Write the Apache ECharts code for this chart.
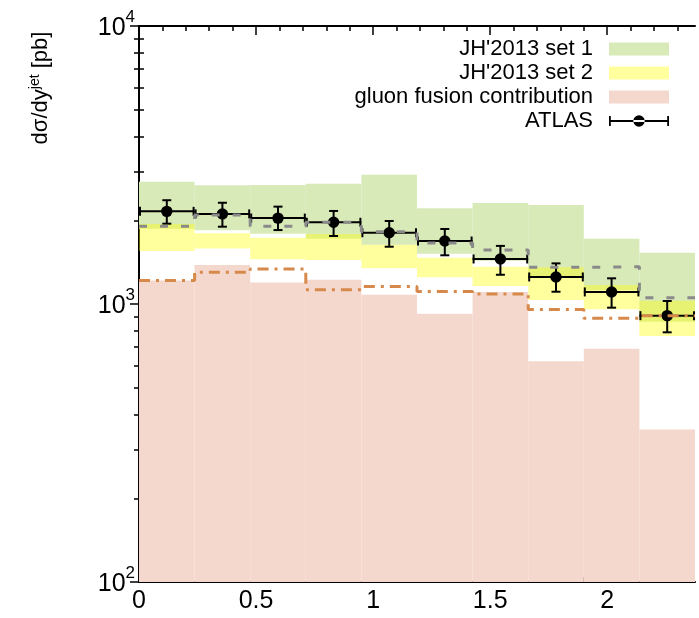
<!DOCTYPE html>
<html>
<head>
<meta charset="utf-8">
<script src="https://cdn.jsdelivr.net/npm/echarts@6/dist/echarts.min.js"></script>
<style>
  html, body { margin: 0; padding: 0; background: #fff; }
  #chart { width: 699px; height: 618px; }
</style>
</head>
<body>
<div id="chart"></div>
<script>
// Jet rapidity bins (10 equal-width bins)
const binEdges = [0, 0.2375, 0.475, 0.7125, 0.95, 1.1875, 1.425, 1.6625, 1.9, 2.1375, 2.375];

// JH'2013 set 1 uncertainty band [pb]
const set1Low  = [1866, 1842, 1790, 1718, 1634, 1515, 1431, 1250, 1123, 863];
const set1High = [2750, 2673, 2680, 2710, 2918, 2210, 2307, 2270, 1715, 1530];

// JH'2013 set 2 uncertainty band [pb]
const set2Low  = [1552, 1582, 1448, 1439, 1344, 1248, 1160, 1034, 957, 767];
const set2High = [1940, 1796, 1732, 1786, 1634, 1468, 1361, 1355, 1170, 1028];

// gluon fusion contribution [pb]
const gluonFusion = [1215, 1381, 1195, 1222, 1080, 923, 1105, 622, 690, 354];

// central-value curves [pb]
const greyDashed    = [1903, 2090, 1903, 1968, 1820, 1656, 1563, 1355, 1361, 1054];
const orangeDashDot = [1215, 1300, 1336, 1126, 1155, 1108, 1087, 955, 889, 908];

// ATLAS measurement [pb]
const atlasValue = [2154, 2109, 2037, 1968, 1805, 1685, 1452, 1251, 1105, 908];
const atlasLow   = [1945, 1897, 1845, 1756, 1607, 1497, 1274, 1107, 970, 791];
const atlasHigh  = [2362, 2313, 2240, 2161, 1989, 1861, 1618, 1400, 1237, 1025];

// axis ranges and ticks
const xRange = [0, 2.375];
const yRange = [100, 10000];
const xMajorTicks = [0, 0.5, 1, 1.5, 2];
const xMinorTicks = [0.1, 0.2, 0.3, 0.4, 0.6, 0.7, 0.8, 0.9, 1.1, 1.2, 1.3, 1.4,
                     1.6, 1.7, 1.8, 1.9, 2.1, 2.2, 2.3];
const yMajorTicks = [100, 1000, 10000];
const yMinorTicks = [200, 300, 400, 500, 600, 700, 800, 900,
                     2000, 3000, 4000, 5000, 6000, 7000, 8000, 9000];

const FONT = 'Liberation Sans, Arial, Helvetica, sans-serif';

const chart = echarts.init(document.getElementById('chart'), null, { renderer: 'canvas' });

// one rectangle per bin: [x0, x1, low, high]
function bandData(low, high) {
  return low.map((lo, i) => [binEdges[i], binEdges[i + 1], lo, high[i]]);
}
function rectItem(params, api) {
  const p0 = api.coord([api.value(0), api.value(3)]);
  const p1 = api.coord([api.value(1), api.value(2)]);
  return {
    type: 'rect',
    shape: { x: p0[0], y: p0[1], width: p1[0] - p0[0], height: p1[1] - p0[1] },
    style: { fill: api.visual('color') }
  };
}
// histogram step points: left edge of each bin, plus closing right edge
function stepData(vals) {
  const pts = vals.map((v, i) => [binEdges[i], v]);
  pts.push([binEdges[binEdges.length - 1], vals[vals.length - 1]]);
  return pts;
}

// ATLAS points with horizontal bin-width bars and vertical error bars
function atlasItem(params, api) {
  const x0 = api.value(0), x1 = api.value(1), v = api.value(2), lo = api.value(3), hi = api.value(4);
  const xc = (x0 + x1) / 2;
  const pl = api.coord([x0, v]);
  const pr = api.coord([x1, v]);
  const pc = api.coord([xc, v]);
  const pLo = api.coord([xc, lo]);
  const pHi = api.coord([xc, hi]);
  const cap = 4.5;
  const ls = { stroke: '#000', lineWidth: 2 };
  return {
    type: 'group',
    children: [
      { type: 'line', shape: { x1: pl[0], y1: pl[1], x2: pr[0], y2: pr[1] }, style: ls },
      { type: 'line', shape: { x1: pl[0] + 1, y1: pl[1] - cap, x2: pl[0] + 1, y2: pl[1] + cap }, style: ls },
      { type: 'line', shape: { x1: pr[0] - 1, y1: pr[1] - cap, x2: pr[0] - 1, y2: pr[1] + cap }, style: ls },
      { type: 'line', shape: { x1: pLo[0], y1: pLo[1], x2: pHi[0], y2: pHi[1] }, style: ls },
      { type: 'line', shape: { x1: pLo[0] - cap, y1: pLo[1], x2: pLo[0] + cap, y2: pLo[1] }, style: ls },
      { type: 'line', shape: { x1: pHi[0] - cap, y1: pHi[1], x2: pHi[0] + cap, y2: pHi[1] }, style: ls },
      { type: 'circle', shape: { cx: pc[0], cy: pc[1], r: 5.7 }, style: { fill: '#000' } }
    ]
  };
}

const atlasIcon = 'path://M0,1.5h1.8v10h-1.8z M58.2,1.5h1.8v10h-1.8z M0,5.6h60v1.8h-60z ' +
                  'M24.3,6.5a5.7,5.7 0 1,0 11.4,0a5.7,5.7 0 1,0 -11.4,0z';

const gridBox = { left: 139, right: 4, top: 26, bottom: 36 };

const frameLine = { show: true, lineStyle: { color: '#000', width: 2 } };

function majorX(position, showLabel) {
  return {
    type: 'value', gridIndex: 0, position: position, min: xRange[0], max: xRange[1],
    axisLine: frameLine,
    axisTick: { show: true, inside: true, length: 9, customValues: xMajorTicks,
                lineStyle: { color: '#000', width: 1.5 } },
    axisLabel: { show: showLabel, customValues: xMajorTicks, fontSize: 25, fontFamily: FONT,
                 color: '#000', margin: 7, formatter: v => String(v) },
    splitLine: { show: false }
  };
}
function minorX(position) {
  return {
    type: 'value', gridIndex: 1, position: position, min: xRange[0], max: xRange[1],
    axisLine: { show: false },
    axisTick: { show: true, inside: true, length: 5, customValues: xMinorTicks,
                lineStyle: { color: '#000', width: 1.5 } },
    axisLabel: { show: false },
    splitLine: { show: false }
  };
}
function majorY(position, showLabel) {
  return {
    type: 'log', logBase: 10, gridIndex: 0, position: position, min: yRange[0], max: yRange[1],
    axisLine: frameLine,
    axisTick: { show: true, inside: true, length: 9, customValues: yMajorTicks,
                lineStyle: { color: '#000', width: 1.5 } },
    axisLabel: {
      show: showLabel, customValues: yMajorTicks, margin: 4, color: '#000',
      formatter: v => '{b|10}{s|' + Math.round(Math.log10(v)) + '}',
      rich: {
        b: { fontSize: 25, fontFamily: FONT, color: '#000', padding: [4, 0, 0, 0] },
        s: { fontSize: 17, fontFamily: FONT, color: '#000', padding: [0, 0, 17, 0], verticalAlign: 'bottom' }
      }
    },
    splitLine: { show: false }
  };
}
function minorY(position) {
  return {
    type: 'log', logBase: 10, gridIndex: 1, position: position, min: yRange[0], max: yRange[1],
    axisLine: { show: false },
    axisTick: { show: true, inside: true, length: 5, customValues: yMinorTicks,
                lineStyle: { color: '#000', width: 1.5 } },
    axisLabel: { show: false },
    splitLine: { show: false }
  };
}

const option = {
  animation: false,
  backgroundColor: '#fff',
  grid: [Object.assign({}, gridBox), Object.assign({}, gridBox)],
  xAxis: [majorX('bottom', true), majorX('top', false), minorX('bottom'), minorX('top')],
  yAxis: [majorY('left', true), majorY('right', false), minorY('left'), minorY('right')],
  legend: {
    orient: 'vertical', right: 30, top: 38, align: 'right', padding: 0,
    itemWidth: 60, itemHeight: 13, itemGap: 2, selectedMode: false,
    textStyle: { fontSize: 22, fontFamily: FONT, color: '#000', lineHeight: 22, padding: [0, 11, 0, 0] },
    data: [
      { name: "JH'2013 set 1", icon: 'rect' },
      { name: "JH'2013 set 2", icon: 'rect' },
      { name: 'gluon fusion contribution', icon: 'rect' },
      { name: 'ATLAS', icon: atlasIcon }
    ]
  },
  graphic: [{
    type: 'text', x: 41, y: 88, rotation: Math.PI / 2,
    style: {
      text: 'dσ/dy{s|jet} [pb]',
      fontSize: 22, fontFamily: FONT, fill: '#000', align: 'center', verticalAlign: 'middle',
      rich: { s: { fontSize: 14, fontFamily: FONT, fill: '#000', padding: [0, 0, 12, 0], verticalAlign: 'bottom' } }
    }
  }],
  series: [
    {
      type: 'custom', name: 'gluon fusion contribution', xAxisIndex: 0, yAxisIndex: 0, clip: true,
      itemStyle: { color: '#f5d8cd' }, encode: { x: [0, 1], y: [2, 3] },
      renderItem: rectItem, data: bandData(gluonFusion.map(() => yRange[0]), gluonFusion)
    },
    {
      type: 'custom', name: "JH'2013 set 1", xAxisIndex: 0, yAxisIndex: 0, clip: true,
      itemStyle: { color: '#d8eab8' }, encode: { x: [0, 1], y: [2, 3] },
      renderItem: rectItem, data: bandData(set1Low, set1High)
    },
    {
      type: 'custom', name: "JH'2013 set 2", xAxisIndex: 0, yAxisIndex: 0, clip: true,
      itemStyle: { color: 'rgba(255,255,0,0.38)' }, encode: { x: [0, 1], y: [2, 3] },
      renderItem: rectItem, data: bandData(set2Low, set2High)
    },
    {
      type: 'line', xAxisIndex: 0, yAxisIndex: 0, step: 'end', symbol: 'none', silent: true,
      lineStyle: { color: '#8a8a8a', width: 3, type: [8, 13] }, data: stepData(greyDashed)
    },
    {
      type: 'line', xAxisIndex: 0, yAxisIndex: 0, step: 'end', symbol: 'none', silent: true,
      lineStyle: { color: '#d6894b', width: 3, type: [11, 6, 3, 6] }, data: stepData(orangeDashDot)
    },
    {
      type: 'custom', name: 'ATLAS', xAxisIndex: 0, yAxisIndex: 0, clip: true,
      itemStyle: { color: '#000' }, encode: { x: [0, 1], y: [2, 3, 4] },
      renderItem: atlasItem,
      data: atlasValue.map((v, i) => [binEdges[i], binEdges[i + 1], v, atlasLow[i], atlasHigh[i]])
    }
  ]
};

chart.setOption(option);
</script>
</body>
</html>
